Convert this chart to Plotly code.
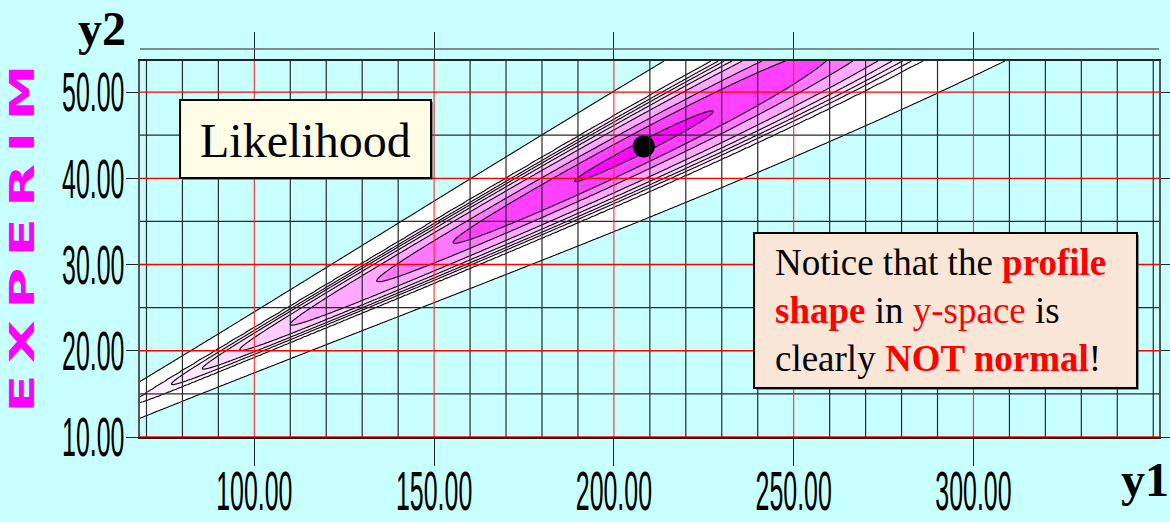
import numpy as np
import plotly.graph_objects as go

# ---------------- data ----------------
x_major = [100, 150, 200, 250, 300]
x_tick_text = ["100.00", "150.00", "200.00", "250.00", "300.00"]
x_minor = [70, 80, 90, 110, 120, 130, 140, 160, 170, 180, 190, 210, 220, 230,
           240, 260, 270, 280, 290, 310, 320, 330, 340, 350]
y_major = [10, 20, 30, 40, 50]
y_tick_text = ["10.00", "20.00", "30.00", "40.00", "50.00"]
y_minor = [15, 25, 35, 45]
x_range = [68.2, 351.6]
y_range = [10.0, 53.6]

# maximum-likelihood point (black dot)
y1_hat = [208.3]
y2_hat = [43.7]

# likelihood surface: normal in (y1, y2/y1) with these spreads
sigma_y1 = 37.9
sigma_ratio = 0.00707
# contour levels (log-likelihood relative to the maximum)
loglik_levels = [-16.6, -7.03, -6.01, -5.25, -4.40, -3.37, -1.92, -0.98, -0.13]
band_colors = ["rgba(255,255,255,0)", "#FFFFFF", "#FFF0FF", "#FFE6FF", "#FFDCFF",
               "#FFCCFF", "#FFA8FF", "#FF78FF", "#FF40FF", "#FF08FF"]

# ---------------- likelihood grid ----------------
gx = np.linspace(x_range[0], x_range[1], 620)
gy = np.linspace(y_range[0], y_range[1], 420)
X, Y = np.meshgrid(gx, gy)
u0 = y2_hat[0] / y1_hat[0]
ll = -0.5 * ((X - y1_hat[0]) / sigma_y1) ** 2 - 0.5 * ((Y / X - u0) / sigma_ratio) ** 2

lv = np.array(loglik_levels)
idx = np.arange(len(lv), dtype=float)
z = np.interp(ll, lv, idx)
below = ll < lv[0]
z[below] = (ll[below] - lv[0]) / (lv[1] - lv[0])
above = ll > lv[-1]
z[above] = len(lv) - 1 + (ll[above] - lv[-1]) / (lv[-1] - lv[-2])

n = len(lv)
colorscale = [[j / n, band_colors[j]] for j in range(n + 1)]

fig = go.Figure()
fig.add_trace(go.Contour(
    x=gx, y=gy, z=z.astype(np.float32),
    autocontour=False,
    contours=dict(start=0, end=n - 1, size=1, coloring="fill", showlines=True),
    line=dict(color="black", width=1.1, smoothing=0),
    colorscale=colorscale, showscale=False, hoverinfo="skip",
))
fig.add_trace(go.Scatter(
    x=y1_hat, y=y2_hat, mode="markers",
    marker=dict(size=22, color="black"), hoverinfo="skip", showlegend=False,
))

# ---------------- grid lines above the fill ----------------
shapes = []
for v in x_minor:
    shapes.append(dict(type="line", xref="x", yref="paper", x0=v, x1=v, y0=0, y1=1,
                       line=dict(color="#2a2a2a", width=1.2), layer="above"))
for v in y_minor:
    shapes.append(dict(type="line", xref="paper", yref="y", x0=0, x1=1, y0=v, y1=v,
                       line=dict(color="#2a2a2a", width=1.3), layer="above"))
for v in x_major:
    shapes.append(dict(type="line", xref="x", yref="paper", x0=v, x1=v, y0=0, y1=1,
                       line=dict(color="rgba(255,40,40,0.9)", width=1.2), layer="above"))
for v in y_major:
    shapes.append(dict(type="line", xref="paper", yref="y", x0=0, x1=1, y0=v, y1=v,
                       line=dict(color="#FF0000", width=1.3), layer="above"))
# outer frame line above the plot
shapes.append(dict(type="line", xref="paper", yref="paper", x0=0, x1=1, y0=1.032, y1=1.032,
                   line=dict(color="#666666", width=1.5), layer="above"))
# text boxes (soft shadow, then box)
shapes.append(dict(type="rect", xref="paper", yref="paper", x0=0.0413, x1=0.2876,
                   y0=0.6835, y1=0.8910, fillcolor="rgba(60,60,60,0.55)",
                   line=dict(width=0), layer="above"))
shapes.append(dict(type="rect", xref="paper", yref="paper", x0=0.0393, x1=0.2856,
                   y0=0.6888, y1=0.8963, fillcolor="#FFFDE6",
                   line=dict(color="black", width=2), layer="above"))
shapes.append(dict(type="rect", xref="paper", yref="paper", x0=0.6046, x1=0.9804,
                   y0=0.1250, y1=0.5373, fillcolor="rgba(60,60,60,0.55)",
                   line=dict(width=0), layer="above"))
shapes.append(dict(type="rect", xref="paper", yref="paper", x0=0.6026, x1=0.9784,
                   y0=0.1303, y1=0.5426, fillcolor="#FAE6D6",
                   line=dict(color="black", width=2), layer="above"))

annotations = [
    dict(text="\u2009".join("EXPERIM"), textangle=-90, xref="paper", yref="paper",
         x=-0.1158, y=0.529, xanchor="center", yanchor="middle", showarrow=False,
         font=dict(family="DejaVu Sans", size=33, color="#FF00FF", weight="bold")),
    dict(text="<b>y2</b>", xref="paper", yref="paper", x=-0.0628, y=1.087,
         xanchor="left", yanchor="middle", showarrow=False,
         font=dict(family="Liberation Serif", size=48, color="black")),
    dict(text="<b>y1</b>", xref="paper", yref="paper", x=0.9607, y=-0.1135,
         xanchor="left", yanchor="middle", showarrow=False,
         font=dict(family="Liberation Serif", size=48, color="black")),
    dict(text="Likelihood", xref="paper", yref="paper", x=0.1624, y=0.7874,
         xanchor="center", yanchor="middle", showarrow=False,
         font=dict(family="Liberation Serif", size=48, color="black")),
    dict(text=("Notice that the <b><span style='color:#FF0000'>profile</span></b><br>"
               "<b><span style='color:#FF0000'>shape</span></b> in "
               "<span style='color:#FF0000'>y-space</span> is<br>"
               "clearly <b><span style='color:#FF0000'>NOT normal</span></b>!"),
         xref="paper", yref="paper", x=0.6212, y=0.3356, xanchor="left",
         yanchor="middle", align="left", showarrow=False,
         font=dict(family="Liberation Serif", size=37, color="black")),
]

bg = "#C8FFFF"
fig.update_layout(
    width=1170, height=522,
    margin=dict(l=140, r=11, t=61, b=85, autoexpand=False),
    paper_bgcolor=bg, plot_bgcolor=bg,
    showlegend=False,
    shapes=shapes, annotations=annotations,
    xaxis=dict(range=x_range, showgrid=False, zeroline=False, showline=True,
               linecolor="#222222", linewidth=1.5, mirror="ticks", automargin=False,
               ticks="outside", ticklen=27, tickwidth=1.3, tickcolor="#222222",
               tickvals=x_major, ticktext=x_tick_text, ticklabelstandoff=0,
               tickfont=dict(family="Liberation Sans", size=29, color="black")),
    yaxis=dict(range=y_range, showgrid=False, zeroline=False, showline=True,
               linecolor="#555555", linewidth=1.5, mirror="ticks", automargin=False,
               ticks="outside", ticklen=12, tickwidth=1.3, tickcolor="#222222",
               tickvals=y_major, ticktext=y_tick_text, ticklabelstandoff=-4,
               tickfont=dict(family="Liberation Sans", size=29, color="black")),
)

post = """
var st = document.createElement('style');
st.textContent = 'html, body { margin: 0; overflow: hidden; } ' +
  'svg.main-svg { overflow: hidden !important; } ' +
  'g.xtick, g.ytick { transform-box: fill-box; transform-origin: 50% 50%; transform: scale(0.86, 1.9); } ' +
  'g.ytick { transform-origin: 100% 50%; } ' +
  'g.annotation[data-index="0"] { transform-box: fill-box; transform-origin: 50% 50%; transform: scale(1, 1.7); }';
document.head.appendChild(st);
"""
fig.write_html("out.html", post_script=post)
